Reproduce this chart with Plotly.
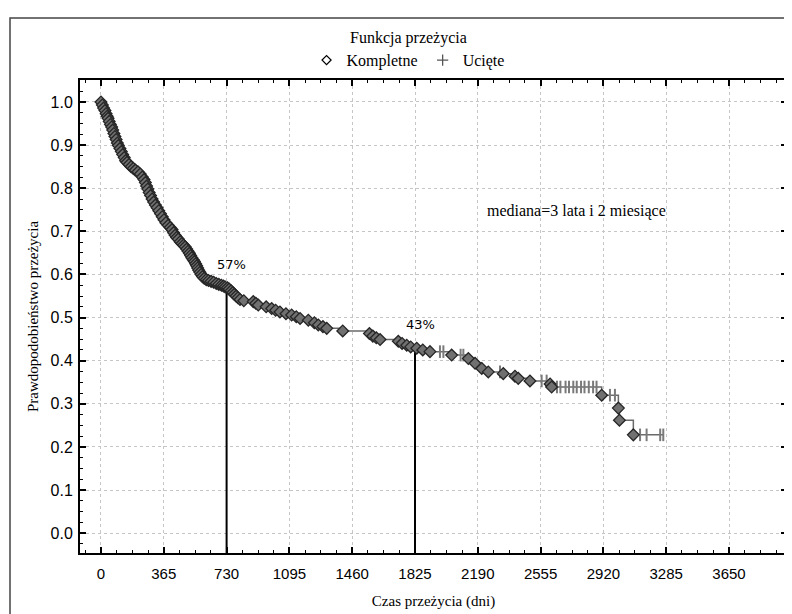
import plotly.graph_objects as go

# ---- data ----
event_days = [0, 8, 15, 23, 30, 36, 41, 48, 55, 62, 68, 75, 81, 88, 95, 101, 110, 118, 126, 135,
              143, 151, 163, 175, 188, 200, 215, 228, 240, 250, 258, 265, 272, 280, 288, 297, 306,
              316, 326, 336, 346, 356, 366, 377, 390, 402, 413, 422, 431, 440, 449, 460, 470, 480,
              489, 498, 506, 514, 521, 528, 536, 543, 550, 556, 562, 568, 575, 582, 590, 600, 612,
              625, 640, 655, 670, 685, 700, 712, 722, 735, 745, 756, 766, 775, 785, 796, 808, 830,
              885, 900, 914, 960, 992, 1015, 1040, 1075, 1108, 1135, 1157, 1205, 1240, 1263, 1290,
              1312, 1405, 1560, 1580, 1600, 1622, 1728, 1750, 1777, 1800, 1835, 1870, 1912, 2038,
              2135, 2174, 2213, 2251, 2338, 2406, 2425, 2493, 2610, 2619, 2910, 3007, 3013, 3094]
event_surv = [1.000, 0.993, 0.986, 0.980, 0.973, 0.967, 0.962, 0.955, 0.948, 0.942, 0.935, 0.927,
              0.920, 0.913, 0.905, 0.899, 0.892, 0.885, 0.878, 0.871, 0.864, 0.860, 0.855, 0.850,
              0.846, 0.842, 0.838, 0.833, 0.826, 0.820, 0.813, 0.805, 0.798, 0.790, 0.783, 0.775,
              0.768, 0.761, 0.755, 0.748, 0.741, 0.734, 0.727, 0.720, 0.714, 0.709, 0.704, 0.697,
              0.691, 0.686, 0.682, 0.676, 0.672, 0.668, 0.664, 0.659, 0.654, 0.649, 0.644, 0.639,
              0.634, 0.630, 0.625, 0.620, 0.615, 0.610, 0.605, 0.600, 0.595, 0.591, 0.588, 0.586,
              0.584, 0.582, 0.579, 0.577, 0.575, 0.573, 0.571, 0.569, 0.566, 0.562, 0.558, 0.554,
              0.550, 0.546, 0.542, 0.539, 0.537, 0.533, 0.529, 0.525, 0.521, 0.517, 0.513, 0.509,
              0.506, 0.502, 0.498, 0.494, 0.488, 0.483, 0.479, 0.475, 0.469, 0.463, 0.457, 0.453,
              0.449, 0.445, 0.440, 0.436, 0.432, 0.429, 0.425, 0.421, 0.413, 0.405, 0.394, 0.382,
              0.374, 0.370, 0.364, 0.359, 0.353, 0.346, 0.339, 0.320, 0.290, 0.262, 0.228]

cens_days = [1970, 1990, 2090, 2106, 2319, 2561, 2590, 2650, 2670, 2700, 2720, 2745, 2765, 2790,
             2810, 2835, 2860, 2880, 2958, 2987, 3133, 3171, 3250, 3268]
cens_surv = [0.421, 0.421, 0.413, 0.413, 0.374, 0.353, 0.353, 0.339, 0.339, 0.339, 0.339, 0.339,
             0.339, 0.339, 0.339, 0.339, 0.339, 0.339, 0.320, 0.320, 0.228, 0.228, 0.228, 0.228]

x_ticks = [0, 365, 730, 1095, 1460, 1825, 2190, 2555, 2920, 3285, 3650]
y_ticks = [0.0, 0.1, 0.2, 0.3, 0.4, 0.5, 0.6, 0.7, 0.8, 0.9, 1.0]
ref_days = [730, 1825]
ref_surv = [0.57, 0.43]
ref_labels = ["57%", "43%"]
median_text = "mediana=3 lata i 2 miesiące"
median_pos = (2232, 0.747)

X_RANGE = [-122, 3987]
Y_RANGE = [-0.046, 1.051]

SERIF = "Liberation Serif"
SANS = "Liberation Sans"

# combined step curve
pts = sorted(zip(event_days + cens_days, event_surv + cens_surv))
curve_x = [p[0] for p in pts]
curve_y = [p[1] for p in pts]

fig = go.Figure()

# reference vertical lines
for d, s in zip(ref_days, ref_surv):
    fig.add_trace(go.Scatter(x=[d, d], y=[Y_RANGE[0], s], mode="lines",
                             line=dict(color="black", width=2), showlegend=False,
                             hoverinfo="skip"))

fig.add_trace(go.Scatter(x=curve_x, y=curve_y, mode="lines", line_shape="hv",
                         line=dict(color="#6a6a6a", width=1.5), showlegend=False))

fig.add_trace(go.Scatter(x=cens_days, y=cens_surv, mode="markers",
                         marker=dict(symbol="line-ns", size=9,
                                     line=dict(color="#7a7a7a", width=2)),
                         showlegend=False))

fig.add_trace(go.Scatter(x=event_days, y=event_surv, mode="markers",
                         marker=dict(symbol="diamond", size=9, color="#707070",
                                     line=dict(color="#262626", width=1.3)),
                         showlegend=False))

# legend entries
fig.add_trace(go.Scatter(x=[None], y=[None], mode="markers", name="Kompletne",
                         marker=dict(symbol="diamond-open", size=7,
                                     line=dict(color="black", width=1.2), color="black")))
fig.add_trace(go.Scatter(x=[None], y=[None], mode="markers", name="Ucięte",
                         marker=dict(symbol="cross-thin-open", size=8,
                                     line=dict(color="#555555", width=1.3), color="#555555")))

for d, s, t in zip(ref_days, ref_surv, ref_labels):
    fig.add_annotation(x=d, y=s, text=t, showarrow=False, xshift=5, yshift=23,
                       font=dict(family="DejaVu Sans", size=13, color="black"))

fig.add_annotation(x=median_pos[0], y=median_pos[1], text=median_text, showarrow=False,
                   xanchor="left", font=dict(family=SERIF, size=16, color="black"))

fig.add_annotation(xref="paper", yref="paper", x=0.464, y=1.089, yanchor="middle",
                   text="Funkcja przeżycia", showarrow=False,
                   font=dict(family=SERIF, size=16, color="black"))

# outer frame
fig.add_shape(type="rect", xref="paper", yref="paper", x0=-0.099, y0=-0.2, x1=1.05, y1=1.131,
              line=dict(color="#444444", width=1.5), fillcolor="rgba(0,0,0,0)", layer="below")

axis_common = dict(showline=True, linecolor="black", linewidth=2, mirror="ticks",
                   ticks="inside", ticklen=6, tickwidth=1.5, tickcolor="black",
                   showgrid=True, gridcolor="#c6c6c6", griddash="dot", gridwidth=1,
                   zeroline=False, automargin=False)

# page body has an 8px margin: figure sized so it fits the 792x614 window
fig.update_layout(
    width=784, height=606, autosize=False,
    margin=dict(l=72, r=5, t=72, b=61, autoexpand=False),
    paper_bgcolor="white", plot_bgcolor="white",
    font=dict(family=SERIF, size=15, color="black"),
    showlegend=True,
    legend=dict(orientation="h", x=0.464, xanchor="center", y=1.042, yanchor="middle",
                font=dict(family=SERIF, size=16, color="black"), bgcolor="rgba(0,0,0,0)",
                itemwidth=30, tracegroupgap=0),
    xaxis=dict(range=X_RANGE, tickmode="array", tickvals=x_ticks,
               ticktext=[str(v) for v in x_ticks],
               tickfont=dict(family=SANS, size=15, color="black"),
               ticklabelstandoff=6,
               minor=dict(tick0=0, dtick=91.25, ticks="inside", ticklen=3,
                          tickcolor="black", tickwidth=1.2, showgrid=False),
               title=dict(text="Czas przeżycia (dni)", font=dict(family=SERIF, size=15),
                          standoff=14),
               **axis_common),
    yaxis=dict(range=Y_RANGE, tickmode="array", tickvals=y_ticks,
               ticktext=[f"{v:.1f}" for v in y_ticks],
               tickfont=dict(family=SANS, size=16, color="black"),
               ticklabelstandoff=2,
               minor=dict(tick0=0, dtick=0.025, ticks="inside", ticklen=3,
                          tickcolor="black", tickwidth=1.2, showgrid=False),
               title=dict(text="Prawdopodobieństwo przeżycia", font=dict(family=SERIF, size=15),
                          standoff=8),
               **axis_common),
)

fig.write_html("out.html")
